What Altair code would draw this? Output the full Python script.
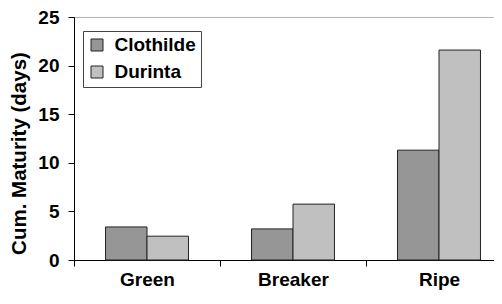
import altair as alt
import pandas as pd

categories = ["Green", "Breaker", "Ripe"]
series = ["Clothilde", "Durinta"]
clothilde = [3.4, 3.2, 11.3]
durinta = [2.45, 5.75, 21.6]
colors = ["#969696", "#C0C0C0"]
y_ticks = [0, 5, 10, 15, 20, 25]

rows = []
for i, c in enumerate(categories):
    rows.append({"stage": c, "variety": series[0], "value": clothilde[i]})
    rows.append({"stage": c, "variety": series[1], "value": durinta[i]})
df = pd.DataFrame(rows)

FONT = "Liberation Sans"

chart = alt.Chart(df).mark_bar(stroke="#222222", strokeWidth=1).encode(
    x=alt.X("stage:N", sort=categories,
            scale=alt.Scale(paddingInner=0, paddingOuter=0, range=[0, 438]),
            axis=alt.Axis(title=None, labelFont=FONT, labelFontSize=19, labelFontWeight="bold",
                          labelColor="black", labelAngle=0, tickBand="extent", tickSize=6,
                          tickColor="black", domainColor="black", labelPadding=4)),
    xOffset=alt.XOffset("variety:N", sort=series,
                        scale=alt.Scale(paddingInner=0, paddingOuter=0.76)),
    y=alt.Y("value:Q", scale=alt.Scale(domain=[0, 25], nice=False),
            axis=alt.Axis(values=y_ticks, title="Cum. Maturity (days)",
                          titleFont=FONT, titleFontSize=20.5, titleFontWeight="bold", titleColor="black",
                          titleY=136,
                          labelFont=FONT, labelFontSize=19, labelFontWeight="bold", labelColor="black",
                          tickSize=6, tickColor="black", domainColor="black", labelPadding=9,
                          titlePadding=8, grid=True,
                          gridColor={"condition": {"test": "datum.value === 25", "value": "#b4b4b4"},
                                     "value": "transparent"})),
    color=alt.Color("variety:N", scale=alt.Scale(domain=series, range=colors),
                    legend=alt.Legend(title=None, orient="none", legendX=9, legendY=14,
                                      fillColor="white", strokeColor="#444444", padding=4.5,
                                      symbolType="square", symbolSize=144,
                                      symbolStrokeColor="#222222", symbolStrokeWidth=1,
                                      labelFont=FONT, labelFontSize=19, labelFontWeight="bold",
                                      labelColor="black", rowPadding=7, labelOffset=8)),
).properties(
    width=420, height=243,
    autosize=alt.AutoSizeParams(type="none"),
    padding={"left": 66, "top": 9, "right": 0, "bottom": 30},
).configure_view(stroke=None)

chart.save("out.html", embed_options={"renderer": "svg", "actions": False})
